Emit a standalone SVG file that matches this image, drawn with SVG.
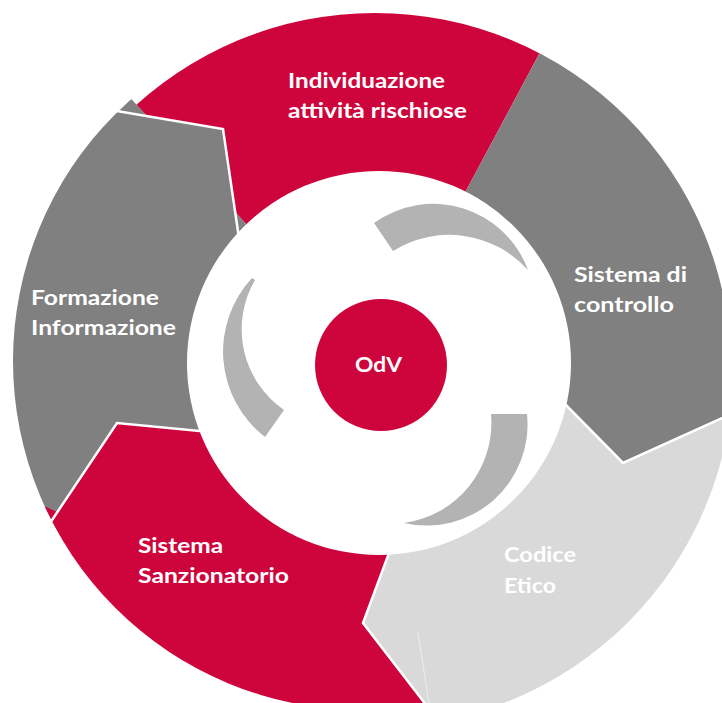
<svg xmlns="http://www.w3.org/2000/svg" width="722" height="703" viewBox="0 0 722 703">
<style>
.red{fill:#CE053C}
.dg{fill:#808080}
.lg{fill:#D9D9D9}
.sep{fill:none;stroke:#FFFFFF;stroke-width:2.5;stroke-linejoin:miter}
.arc{fill:#B3B3B3}
.lbl{font-family:"Lato","Open Sans","Liberation Sans",sans-serif;font-weight:700;font-size:20.5px;fill:#FFFFFF}
</style>
<defs>
<clipPath id="cTop"><circle cx="375" cy="369" r="356"/></clipPath>
<clipPath id="cLG"><circle cx="375" cy="369" r="358"/></clipPath>
<clipPath id="cLeft"><circle cx="362" cy="361" r="349"/></clipPath>
<clipPath id="cBL"><circle cx="362" cy="361" r="349"/></clipPath>
</defs>
<rect width="722" height="703" fill="#FFFFFF"/>
<g id="individuazione">
<polygon class="red" clip-path="url(#cTop)" points="76,39 304,287 379,363 429,260 584,-30 370,-100 60,-20"/>
</g>
<g id="sistema-controllo">
<polygon class="dg" clip-path="url(#cTop)" points="584,-30 429,260 379,363 524,362 568,407 623,463 770,397 800,100 750,-50"/>
</g>
<g id="codice-etico">
<polygon class="lg" clip-path="url(#cLG)" points="770,397 623,463 568,407 524,362 379,363 430,443 390,551 363,623 487,783 800,800"/>
</g>
<g id="sistema-sanzionatorio">
<polygon class="red" clip-path="url(#cBL)" points="487,783 363,623 390,551 430,443 379,363 277,439 197,431 117,423 20,568 -45,665 100,900 500,900"/>
</g>
<g id="formazione">
<polygon class="dg" clip-path="url(#cLeft)" points="20,568 117,423 197,431 277,439 379,363 304,287 247,225 235,212 223,129 147,116 76,39 -50,0 -50,650"/>
<polygon class="red" clip-path="url(#cLeft)" points="44,506 57,512 52,521"/>
</g>
<g id="separators">
<polyline class="sep" points="105,109 223,129 240,245"/>
<polyline class="sep" points="560,399 623,463 760,401"/>
<polyline class="sep" points="395,537 363,623 440,723"/>
<polyline class="sep" points="210,432 117,423 40,538"/>
<line x1="418" y1="633" x2="432" y2="722" stroke="#EDEDED" stroke-width="1"/>
</g>
<circle cx="379" cy="363" r="192" fill="#FFFFFF"/>
<g id="arrows">
<path class="arc" d="M374,223 A101,101 0 0 1 528,270 A106,106 0 0 0 393,251 Z"/>
<path class="arc" d="M252,278 A108,108 0 0 0 265,437 L284,410 A98,98 0 0 1 255,280 Z"/>
<path class="arc" d="M527,414 A101,101 0 0 1 404,523 A101,101 0 0 0 491,414 Z"/>
</g>
<g id="odv">
<circle cx="381" cy="365" r="66" class="red"/>
<text class="lbl" x="355" y="372" textLength="47" lengthAdjust="spacingAndGlyphs">OdV</text>
</g>
<g id="labels">
<text class="lbl" x="288" y="88" textLength="157" lengthAdjust="spacingAndGlyphs">Individuazione</text>
<text class="lbl" x="288" y="118" textLength="179" lengthAdjust="spacingAndGlyphs">attività rischiose</text>
<text class="lbl" x="574" y="282" textLength="113" lengthAdjust="spacingAndGlyphs">Sistema di</text>
<text class="lbl" x="574" y="312" textLength="100" lengthAdjust="spacingAndGlyphs">controllo</text>
<text class="lbl" x="31" y="305" textLength="128" lengthAdjust="spacingAndGlyphs">Formazione</text>
<text class="lbl" x="31" y="335" textLength="145" lengthAdjust="spacingAndGlyphs">Informazione</text>
<text class="lbl" x="138" y="553" textLength="85" lengthAdjust="spacingAndGlyphs">Sistema</text>
<text class="lbl" x="138" y="583" textLength="151" lengthAdjust="spacingAndGlyphs">Sanzionatorio</text>
<text class="lbl" x="504" y="562" textLength="72" lengthAdjust="spacingAndGlyphs">Codice</text>
<text class="lbl" x="504" y="593" textLength="52" lengthAdjust="spacingAndGlyphs">Etico</text>
</g>
</svg>
